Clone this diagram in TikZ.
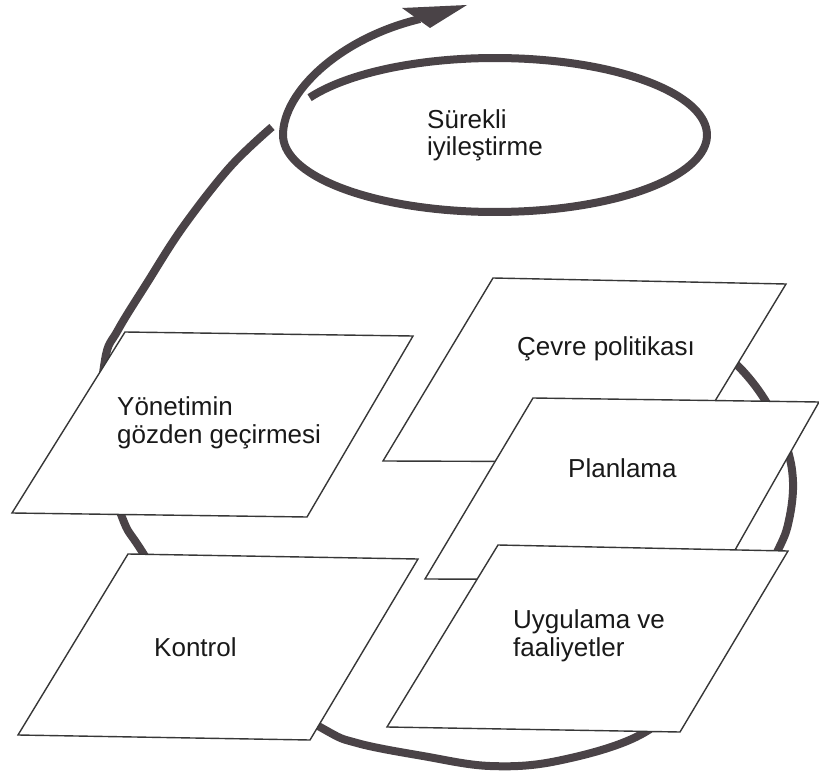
\documentclass[tikz,border=0pt]{standalone}
\usepackage{fontspec}
\setmainfont{Liberation Sans}
\definecolor{arcgray}{RGB}{74,67,71}
\definecolor{edgegray}{RGB}{55,55,55}
\begin{document}
\begin{tikzpicture}[x=1pt,y=-1pt,
  loopline/.style={draw=arcgray,line width=8pt},
  headfill/.style={fill=arcgray},
  card/.style={draw=edgegray,fill=white,line width=1.4pt},
  label/.style={inner sep=0pt,anchor=base west,align=left,
    font=\fontsize{26}{27.5}\selectfont,text=black!90}]
\useasboundingbox (0,0) rectangle (819,778);

% big cycle arc
\draw[loopline] plot[smooth,tension=0.6] coordinates {
  (700,338) (735,363) (765,400) (786,445) (793,482) (789,520) (778,550)
  (740,620) (698,686) (640,735) (557,761) (490,766) (423,756)
  (357,743) (320,727) (213,662) (143,553) (122,517) (100,440) (105,360)
  (118,330) (147,283) (183,227) (230,167) (272,127)};

% spiral of continual improvement
\draw[loopline] plot[domain=151:-180,samples=140,variable=\t]
  ({495+212*cos(\t)},{135-77*sin(\t)})
  .. controls (283,92) and (340,38) .. (420,19);
\coordinate (hA) at (402,8);
\coordinate (hB) at (467,5);
\coordinate (hC) at (430,28);
\fill[headfill] (hA) -- (hB) -- (hC) -- cycle;
\node[label] (surekli) at (427,156) {Sürekli\\iyileştirme};

% cards
\draw[card] (125,332) coordinate (y1) -- (413,336) coordinate (y2)
  -- (307,517) coordinate (y3) -- (12,513) coordinate (y4) -- cycle;
\node[label] (yonetim) at (117,443) {Yönetimin\\gözden geçirmesi};

\draw[card] (128,554) coordinate (k1) -- (418,559) coordinate (k2)
  -- (310,740) coordinate (k3) -- (18,735) coordinate (k4) -- cycle;
\node[label] (kontrol) at (154,656) {Kontrol};

\draw[card] (493,278) coordinate (c1) -- (786,284) coordinate (c2)
  -- (678,462) coordinate (c3) -- (383,461) coordinate (c4) -- cycle;
\node[label] (cevre) at (517,355) {Çevre politikası};

\draw[card] (533,398) coordinate (p1) -- (819,402) coordinate (p2)
  -- (718,580) coordinate (p3) -- (425,579) coordinate (p4) -- cycle;
\node[label] (plan) at (568,477) {Planlama};

\draw[card] (498,545) coordinate (u1) -- (788,551) coordinate (u2)
  -- (680,732) coordinate (u3) -- (387,727) coordinate (u4) -- cycle;
\node[label] (uyg) at (513,656) {Uygulama ve\\faaliyetler};
\end{tikzpicture}
\end{document}
